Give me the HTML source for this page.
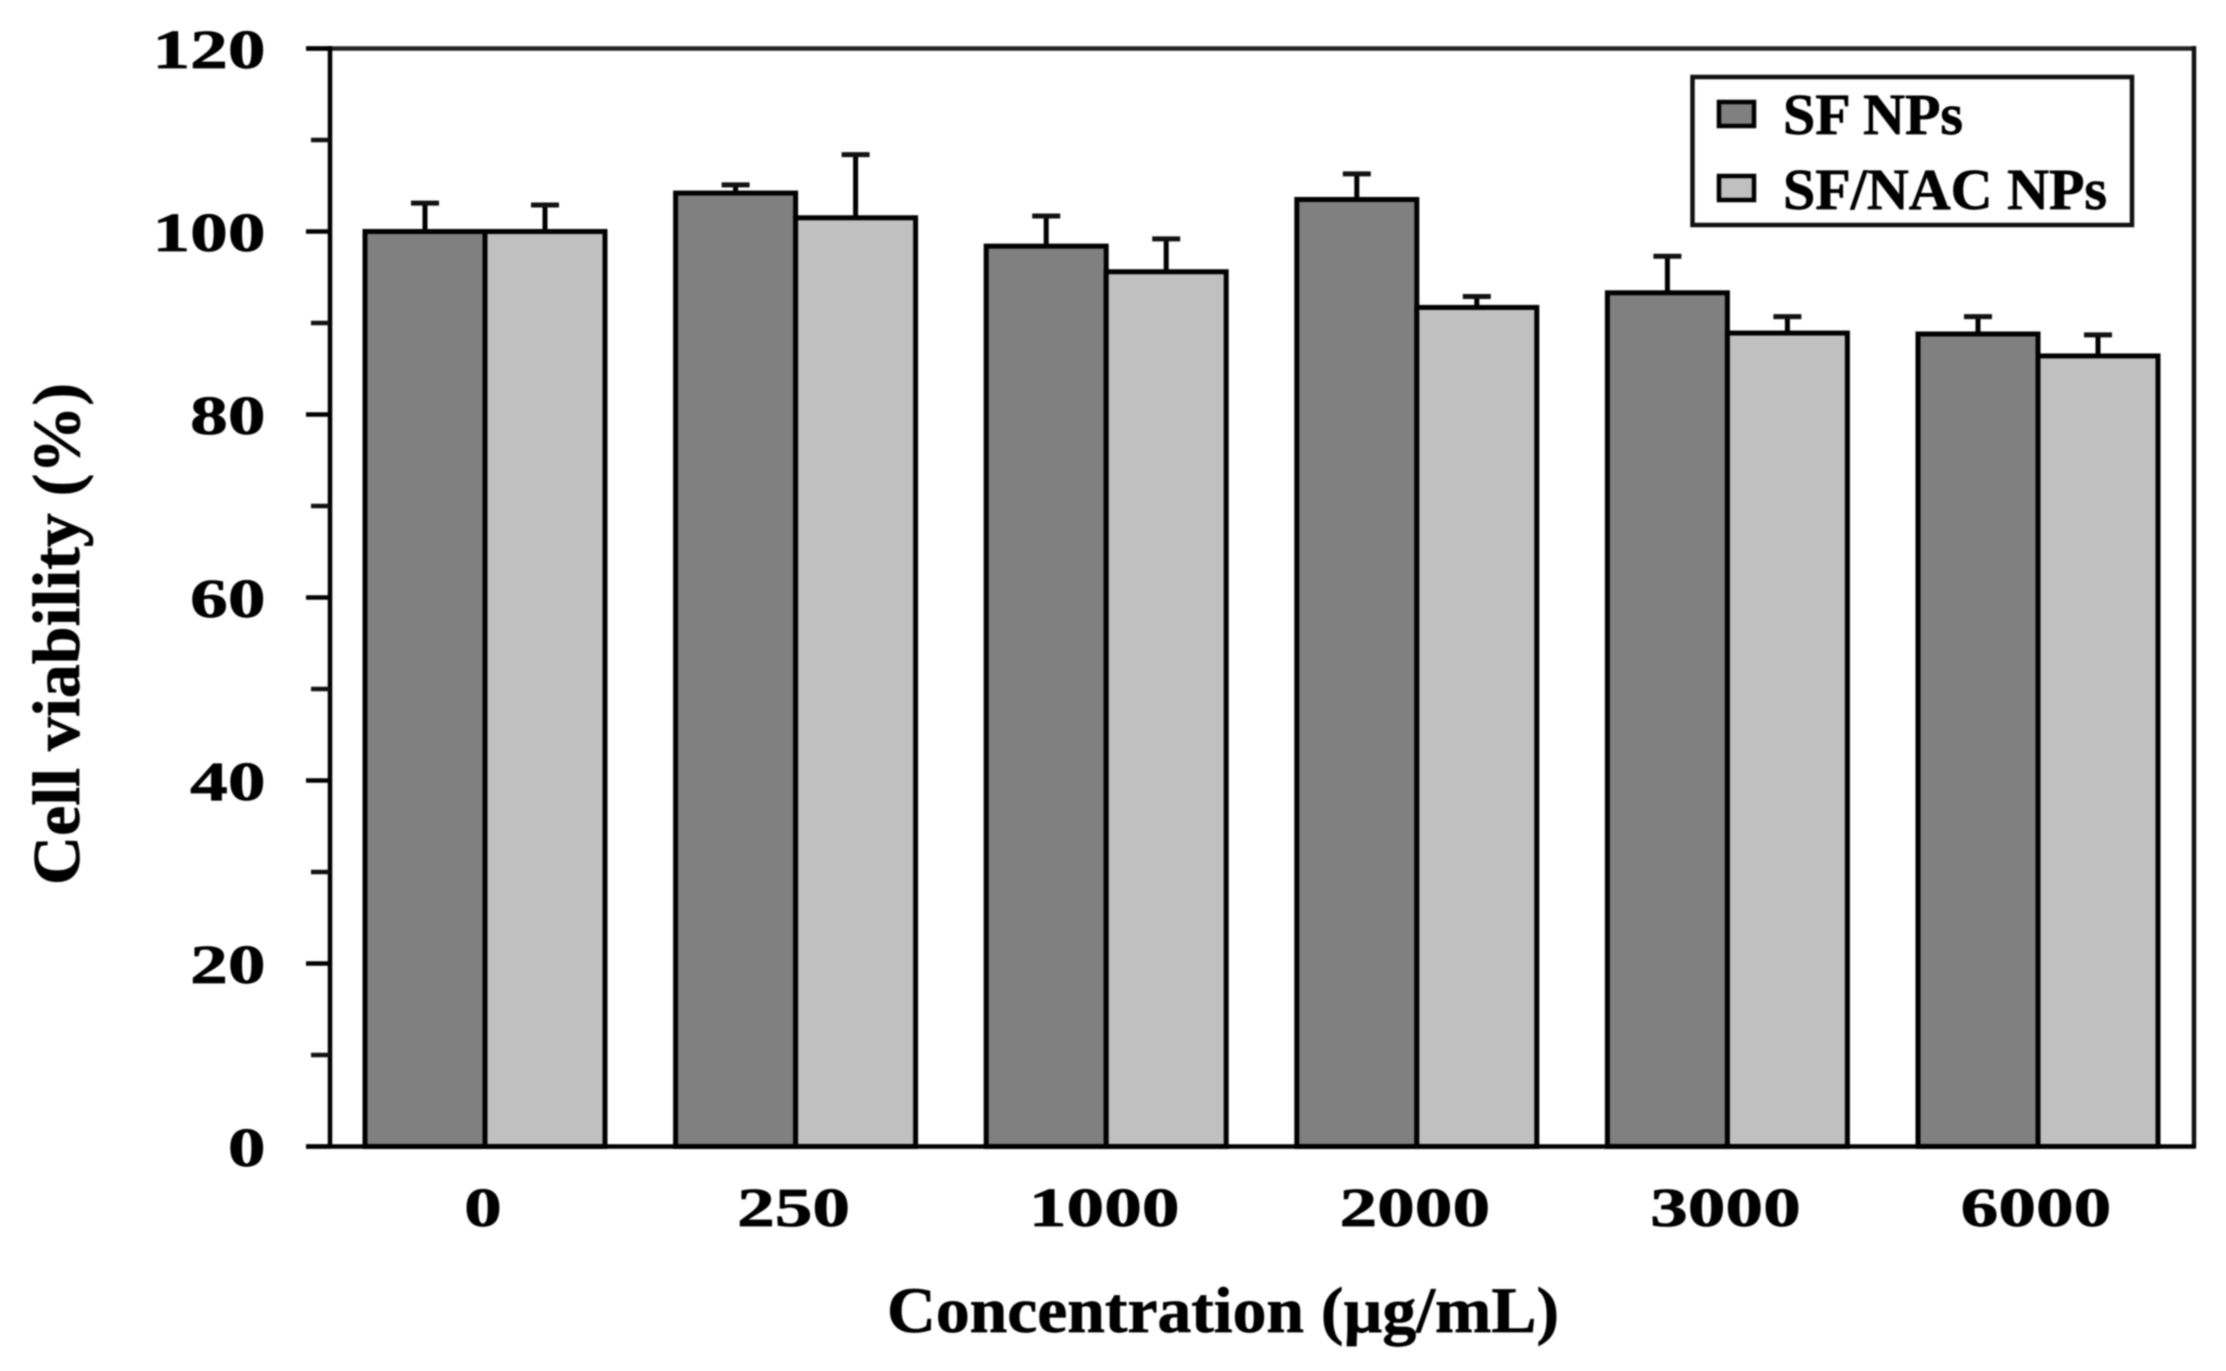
<!DOCTYPE html>
<html lang="en">
<head>
<meta charset="utf-8">
<title>Cell viability chart</title>
<style>
  html, body { margin: 0; padding: 0; background: #ffffff; }
  body { width: 2226px; height: 1371px; overflow: hidden; }
  svg { display: block; filter: blur(0.7px); }
  text { font-family: "Liberation Serif", "DejaVu Serif", serif; font-weight: bold; fill: #000; stroke: #000; stroke-width: 0.7px; }
</style>
</head>
<body>
<svg id="chart" xmlns="http://www.w3.org/2000/svg" width="2226" height="1371" viewBox="0 0 2226 1371">
  <rect x="0" y="0" width="2226" height="1371" fill="#ffffff"/>
  <g id="bars"></g>
  <g id="axes">
    <line x1="307" y1="48.5" x2="2196" y2="48.5" stroke="#222" stroke-width="4.5"/>
    <line x1="2194" y1="46" x2="2194" y2="1147" stroke="#111" stroke-width="4.5"/>
    <line x1="330" y1="46" x2="330" y2="1147" stroke="#000" stroke-width="4.5"/>
    <line x1="306" y1="1146.5" x2="2196" y2="1146.5" stroke="#000" stroke-width="4.5"/>
  </g>
  <g id="y-ticks"></g>
  <g id="x-ticks"></g>
  <text transform="translate(79,885) rotate(-90)" font-size="67" textLength="502" lengthAdjust="spacingAndGlyphs">Cell viability (%)</text>
  <text x="887" y="1332" font-size="65" textLength="672" lengthAdjust="spacingAndGlyphs">Concentration (µg/mL)</text>
  <g>
    <rect x="1692.5" y="77" width="439.5" height="148" fill="#ffffff" stroke="#111" stroke-width="4.5"/>
    <rect x="1719" y="102" width="35" height="24" fill="#808080" stroke="#000" stroke-width="4.5"/>
    <text x="1783" y="134" font-size="58" textLength="180" lengthAdjust="spacingAndGlyphs">SF NPs</text>
    <rect x="1719" y="176" width="35" height="24" fill="#c0c0c0" stroke="#000" stroke-width="4.5"/>
    <text x="1783" y="209" font-size="58" textLength="324" lengthAdjust="spacingAndGlyphs">SF/NAC NPs</text>
  </g>
</svg>
<script>
const categories = ["0", "250", "1000", "2000", "3000", "6000"];
const sfValues = [100, 104.2, 98.4, 103.5, 93.3, 88.8];
const nacValues = [100, 101.5, 95.6, 91.7, 88.9, 86.4];
const sfErrors = [3.1, 0.9, 3.3, 2.8, 4.0, 1.9];
const nacErrors = [2.9, 6.9, 3.6, 1.2, 1.8, 2.3];
const yMajorTicks = [0, 20, 40, 60, 80, 100, 120];
const yMinorTicks = [10, 30, 50, 70, 90, 110];

const NS = "http://www.w3.org/2000/svg";
const yMax = 120;
const plotTop = 48.5;
const plotBottom = 1146.5;
const firstGroupLeft = 365;
const groupStep = 310.6;
const barWidth = 120;

function yScale(v) {
  return plotBottom - (v / yMax) * (plotBottom - plotTop);
}
function groupLeft(i) {
  return firstGroupLeft + i * groupStep;
}
function make(tag, attrs, parent) {
  const el = document.createElementNS(NS, tag);
  for (const k in attrs) el.setAttribute(k, attrs[k]);
  parent.appendChild(el);
  return el;
}

const barsLayer = document.getElementById("bars");
const yTickLayer = document.getElementById("y-ticks");
const xTickLayer = document.getElementById("x-ticks");

function drawSeries(values, errors, offset, fill) {
  values.forEach(function (v, i) {
    const left = groupLeft(i) + offset;
    const top = yScale(v);
    const mid = left + barWidth / 2;
    const capY = yScale(v + errors[i]);

    const stem = make("line", { x1: mid, x2: mid, y1: top, y2: capY, stroke: "#000", "stroke-width": 5 }, barsLayer);
    
    

    const cap = make("line", { x1: mid - 14, x2: mid + 14, y1: capY, y2: capY, stroke: "#111", "stroke-width": 5 }, barsLayer);
    
    

    const bar = make("rect", { x: left, y: top, width: barWidth, height: plotBottom - top, fill: fill, stroke: "#000", "stroke-width": 5 }, barsLayer);
    
    
  });
}
drawSeries(sfValues, sfErrors, 0, "#808080");
drawSeries(nacValues, nacErrors, barWidth, "#c0c0c0");

yMajorTicks.forEach(function (v) {
  const y = yScale(v);
  const mark = make("line", { x1: 306, x2: 330, y1: y, y2: y, stroke: "#000", "stroke-width": 4.5 }, yTickLayer);
  
  

  const label = make("text", { transform: "translate(265.5," + (y + 19.5) + ") scale(1.37,1)", "text-anchor": "end", "font-size": 55 }, yTickLayer);
  label.textContent = String(v);
  
  
});

yMinorTicks.forEach(function (v) {
  const y = yScale(v);
  const mark = make("line", { x1: 311, x2: 330, y1: y, y2: y, stroke: "#111", "stroke-width": 4.5 }, yTickLayer);
  
  
});

categories.forEach(function (c, i) {
  const cx = groupLeft(i) + barWidth - 2;
  const label = make("text", { transform: "translate(" + cx + ",1226) scale(1.37,1)", "text-anchor": "middle", "font-size": 55 }, xTickLayer);
  label.textContent = c;
  
  
});
</script>
</body>
</html>
